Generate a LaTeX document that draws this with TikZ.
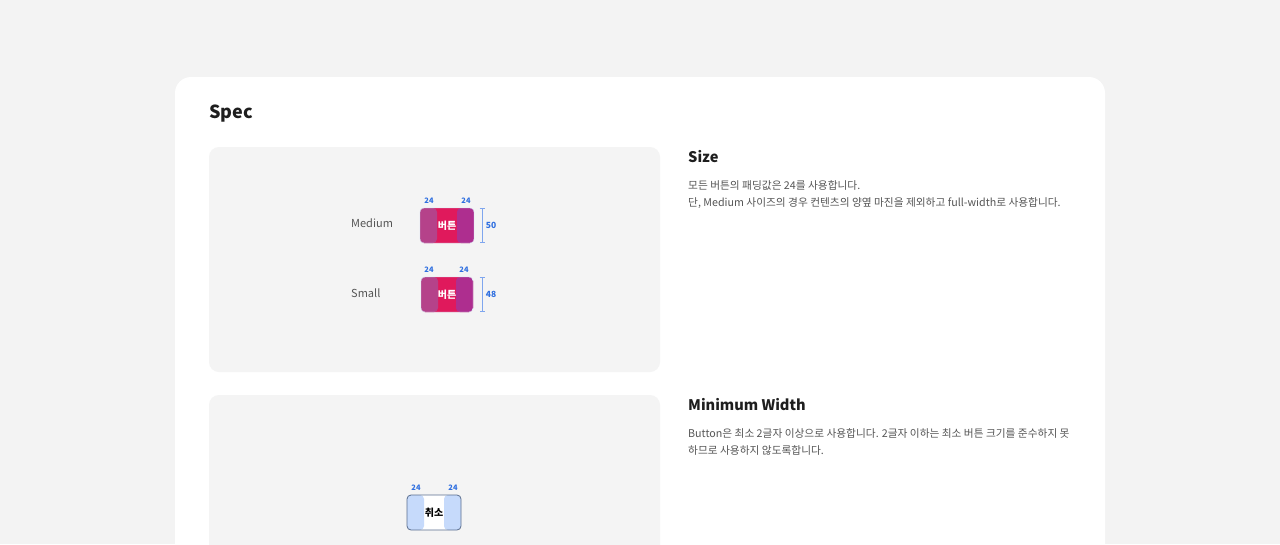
\documentclass[tikz,border=0pt]{standalone}
\usepackage{fontspec}
\newfontfamily\kr{Noto Sans CJK KR}
\usetikzlibrary{positioning,arrows.meta}
\definecolor{pagebg}{HTML}{F3F3F3}
\definecolor{panelbg}{HTML}{F4F4F4}
\definecolor{titlecol}{HTML}{1E1E1E}
\definecolor{bodycol}{HTML}{555555}
\definecolor{dimblue}{HTML}{2F6FE0}
\definecolor{dimline}{HTML}{7FA6EE}
\definecolor{padL}{HTML}{B5428A}
\definecolor{padM}{HTML}{E0195C}
\definecolor{padR}{HTML}{AE2E8F}
\definecolor{minpad}{HTML}{C6DAFB}
\definecolor{minline}{HTML}{5A6E8E}
\tikzset{
  heading/.style={anchor=west, inner sep=0pt, text=titlecol, font=\kr\bfseries\fontsize{14.6}{18}\selectfont},
  body/.style={anchor=north west, inner sep=0pt, text=bodycol, align=left, font=\kr\fontsize{10.7}{17}\selectfont},
  sizename/.style={anchor=west, inner sep=0pt, text=bodycol, font=\kr\fontsize{11}{13}\selectfont},
  padnum/.style={inner sep=0pt, text=dimblue, font=\kr\bfseries\fontsize{7.5}{9}\selectfont},
  dimnum/.style={anchor=west, inner sep=0pt, text=dimblue, font=\kr\bfseries\fontsize{8.5}{10}\selectfont},
  dimbar/.style={draw=dimline, line width=0.8pt, {Bar[width=5pt]}-{Bar[width=5pt]}},
  panel/.style={fill=panelbg, rounded corners=10pt},
  pinkbtn/.style={rounded corners=4pt, minimum width=#1, minimum height=35pt, inner sep=0pt,
    draw=dimline!40, line width=0.4pt, text=white, font=\kr\bfseries\fontsize{10}{12}\selectfont,
    path picture={
      \fill[padM] (path picture bounding box.south west) rectangle (path picture bounding box.north east);
      \fill[padL] (path picture bounding box.south west) rectangle ([xshift=17pt]path picture bounding box.north west);
      \fill[padR] ([xshift=-17pt]path picture bounding box.south east) rectangle (path picture bounding box.north east);
    }},
  minbtn/.style={rounded corners=4pt, minimum width=54pt, minimum height=35pt, inner sep=0pt,
    draw=minline, line width=0.8pt, text=black, font=\kr\bfseries\fontsize{10}{12}\selectfont,
    path picture={
      \fill[white] (path picture bounding box.south west) rectangle (path picture bounding box.north east);
      \fill[minpad] (path picture bounding box.south west) rectangle ([xshift=17pt]path picture bounding box.north west);
      \fill[minpad] ([xshift=-17pt]path picture bounding box.south east) rectangle (path picture bounding box.north east);
    }},
}
\begin{document}
\begin{tikzpicture}[x=1pt, y=-1pt]
  \useasboundingbox (0,0) rectangle (1280,544);
  \clip (0,0) rectangle (1280,544);
  \fill[pagebg] (0,0) rectangle (1280,544);
  % card
  \fill[white, rounded corners=16pt] (175,77) rectangle (1105,620);
  \node (spec) [anchor=west, inner sep=0pt, text=titlecol, font=\kr\bfseries\fontsize{18}{20}\selectfont] at (209,113.5) {Spec};

  % size panel
  \fill[panel] (209,147) rectangle (660,372);
  \node (medium) [sizename] at (351,223.5) {Medium};
  \node (mbtn) [pinkbtn=54pt] at (447,225.5) {버튼};
  \node (small) [sizename] at (351,293.5) {Small};
  \node (sbtn) [pinkbtn=52pt] at (447,294.5) {버튼};

  \node (mpadl) [padnum] at (429,201) {24};
  \node (mpadr) [padnum] at (466,201) {24};
  \node (spadl) [padnum] at (429,270) {24};
  \node (spadr) [padnum] at (464,270) {24};

  \coordinate (mtop) at ([xshift=8pt]mbtn.north east);
  \coordinate (mbot) at ([xshift=8pt]mbtn.south east);
  \draw[dimbar] (mtop) -- (mbot);
  \node (mheight) [dimnum, right=3.5pt of mbtn.east, xshift=8pt] {50};
  \coordinate (stop) at ([xshift=9pt]sbtn.north east);
  \coordinate (sbot) at ([xshift=9pt]sbtn.south east);
  \draw[dimbar] (stop) -- (sbot);
  \node (sheight) [dimnum, right=3.5pt of sbtn.east, xshift=9pt] {48};

  \node (sizehead) [heading] at (688,157) {Size};
  \node (sizetext) [body] at (688,180) {모든 버튼의 패딩값은 24를 사용합니다.\\단, Medium 사이즈의 경우 컨텐츠의 양옆 마진을 제외하고 full-width로 사용합니다.};

  % minimum width panel
  \fill[panel] (209,395) rectangle (660,620);
  \node (minbtn) [minbtn] at (434,512.5) {취소};
  \node (minpadl) [padnum] at (416,488) {24};
  \node (minpadr) [padnum] at (453,488) {24};

  \node (minhead) [heading] at (688,405) {Minimum Width};
  \node (mintext) [body] at (688,428) {Button은 최소 2글자 이상으로 사용합니다. 2글자 이하는 최소 버튼 크기를 준수하지 못\\하므로 사용하지 않도록합니다.};
\end{tikzpicture}
\end{document}
